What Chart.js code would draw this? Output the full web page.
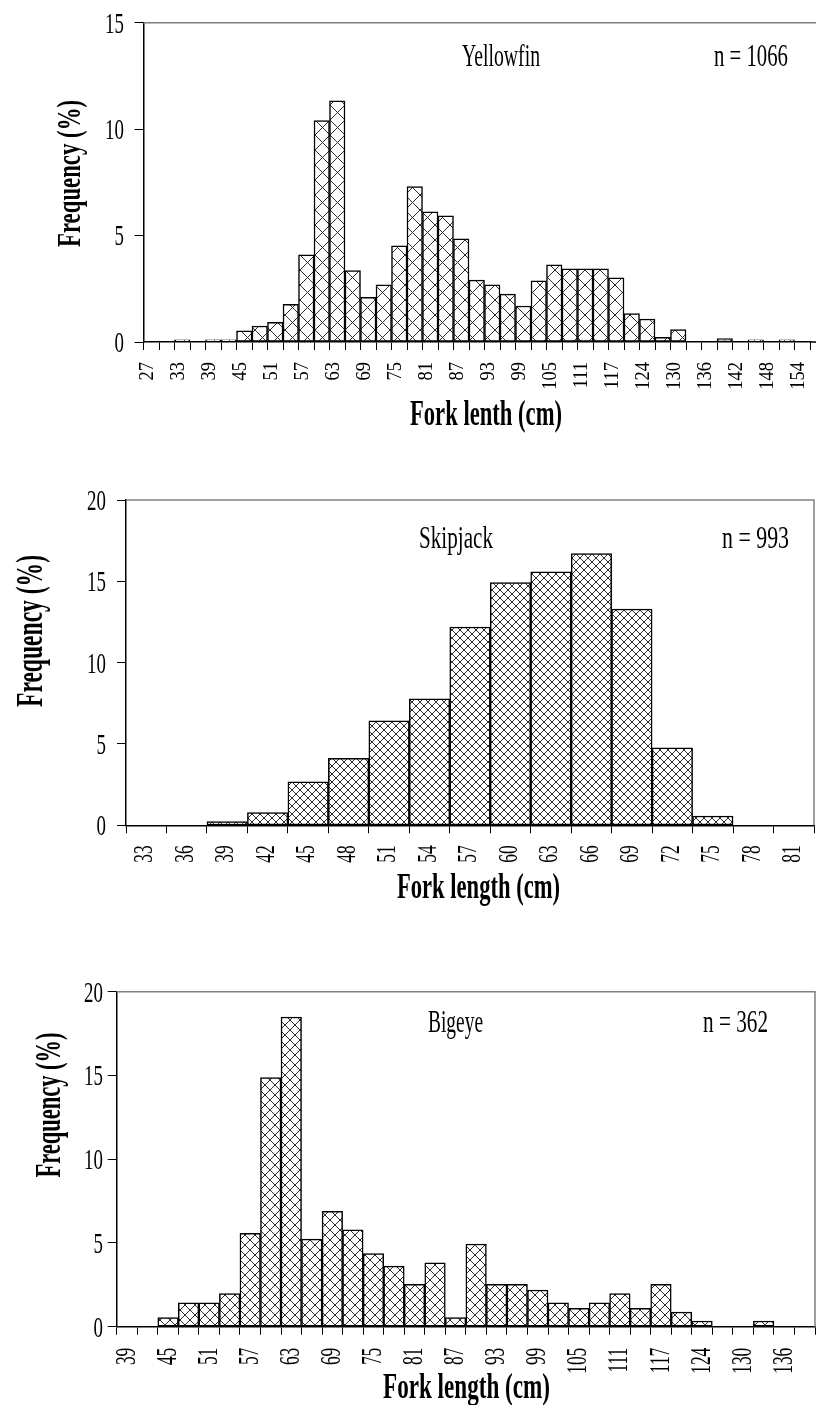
<!DOCTYPE html>
<html>
<head>
<meta charset="utf-8">
<script src="https://cdn.jsdelivr.net/npm/chart.js@4.4.0/dist/chart.umd.min.js"></script>
<style>
  html, body { margin: 0; padding: 0; background: #fff; overflow: hidden; }
  body { width: 816px; height: 1405px; position: relative; }
  canvas { position: absolute; left: 0; }
</style>
</head>
<body>
<canvas id="yellowfin" width="816" height="450" style="top:0px"></canvas>
<canvas id="skipjack" width="816" height="470" style="top:450px"></canvas>
<canvas id="bigeye" width="816" height="485" style="top:920px"></canvas>
<script>
// Yellowfin: 3 cm bins, label on every other bin
const yfLabels = ["27", "", "33", "", "39", "", "45", "", "51", "", "57", "", "63", "", "69", "", "75", "", "81", "", "87", "",
  "93", "", "99", "", "105", "", "111", "", "117", "", "124", "", "130", "", "136", "", "142", "", "148", "", "154"];
const yfFreq = [0, 0, 0.1, 0, 0.1, 0.1, 0.52, 0.75, 0.92, 1.77, 4.1, 10.4, 11.33, 3.35, 2.1, 2.68, 4.52, 7.3, 6.12, 5.93,
  4.85, 2.91, 2.68, 2.25, 1.69, 2.87, 3.62, 3.44, 3.44, 3.44, 3.02, 1.33, 1.08, 0.22, 0.58, 0, 0, 0.16, 0, 0.1, 0, 0.1, 0];

// Skipjack
const skLabels = ["33", "36", "39", "42", "45", "48", "51", "54", "57", "60", "63", "66", "69", "72", "75", "78", "81"];
const skFreq = [0, 0, 0.23, 0.78, 2.68, 4.12, 6.43, 7.77, 12.19, 14.92, 15.59, 16.7, 13.3, 4.77, 0.57, 0, 0];

// Bigeye
const beLabels = ["39", "", "45", "", "51", "", "57", "", "63", "", "69", "", "75", "", "81", "", "87", "",
  "93", "", "99", "", "105", "", "111", "", "117", "", "124", "", "130", "", "136", ""];
const beFreq = [0, 0, 0.54, 1.43, 1.43, 1.97, 5.57, 14.87, 18.49, 5.23, 6.89, 5.79, 4.36, 3.62, 2.53, 3.82, 0.54,
  4.94, 2.53, 2.53, 2.19, 1.43, 1.09, 1.43, 1.97, 1.09, 2.53, 0.88, 0.34, 0, 0, 0.34, 0, 0];

const SERIF = '"Liberation Serif", "Times New Roman", serif';

// draws condensed serif text (the source figure uses a narrow Times)
function squeezeText(ctx, text, x, y, opt) {
  ctx.save();
  ctx.font = (opt.bold ? "bold " : "") + opt.size + "px " + SERIF;
  const natural = ctx.measureText(text).width;
  const sx = opt.width ? opt.width / natural : opt.squeeze || 1;
  ctx.translate(x, y);
  if (opt.rotate) ctx.rotate(-Math.PI / 2);
  ctx.scale(sx, 1);
  ctx.textAlign = opt.align || "left";
  ctx.textBaseline = "alphabetic";
  ctx.fillStyle = "#000";
  ctx.fillText(text, 0, 0);
  ctx.restore();
}

function crossHatch(canvasId, size) {
  const tile = document.createElement("canvas");
  tile.width = size;
  tile.height = size;
  const g = tile.getContext("2d");
  g.fillStyle = "#fff";
  g.fillRect(0, 0, size, size);
  g.strokeStyle = "#2e2e2e";
  g.lineWidth = 1;
  g.beginPath();
  for (const k of [-size, 0, size]) {
    g.moveTo(k, 0);
    g.lineTo(k + size, size);
    g.moveTo(k + size, 0);
    g.lineTo(k, size);
  }
  g.stroke();
  return document.getElementById(canvasId).getContext("2d").createPattern(tile, "repeat");
}

function paperText(spec) {
  return {
    id: "paperText",
    afterDraw(chart) {
      const ctx = chart.ctx;
      const { left, right, top, bottom } = chart.chartArea;
      const xs = chart.scales.x;
      const ys = chart.scales.y;

      // grey plot frame (top / right), black axis run-out on the open side
      ctx.save();
      ctx.strokeStyle = "#808080";
      ctx.lineWidth = 1.5;
      ctx.beginPath();
      ctx.moveTo(left, top);
      if (spec.openRight) {
        ctx.lineTo(chart.width, top);
      } else {
        ctx.lineTo(right, top);
        ctx.lineTo(right, bottom);
      }
      ctx.stroke();
      if (spec.openRight) {
        ctx.strokeStyle = "#000";
        ctx.beginPath();
        ctx.moveTo(right, bottom);
        ctx.lineTo(chart.width, bottom);
        ctx.stroke();
      }
      ctx.restore();

      ys.ticks.forEach((t) => {
        const py = ys.getPixelForValue(t.value);
        squeezeText(ctx, String(t.value), spec.yTickRight, py + 0.33 * 30, {
          size: 30, squeeze: 0.63, align: "right"
        });
      });

      chart.data.labels.forEach((lab, i) => {
        if (!lab) return;
        const px = xs.getPixelForTick(i) + spec.xShift;
        squeezeText(ctx, lab, px + 0.33 * spec.xSize, bottom + spec.xGap, {
          size: spec.xSize, squeeze: spec.xSqueeze, rotate: true, align: "right"
        });
      });

      squeezeText(ctx, spec.name, spec.nameX, spec.nameY, { size: 31, width: spec.nameW });
      squeezeText(ctx, spec.count, spec.countX, spec.nameY, { size: 31, width: spec.countW });
      squeezeText(ctx, spec.xTitle, spec.xTitleX, spec.xTitleY, { size: 36, bold: true, width: spec.xTitleW });
      squeezeText(ctx, "Frequency (%)", spec.yTitleX, spec.yTitleY, {
        size: spec.yTitleSize, bold: true, width: spec.yTitleW, rotate: true, align: "center"
      });
    }
  };
}

function buildChart(id, labels, values, yMax, hatch, pad, spec) {
  return new Chart(document.getElementById(id), {
    type: "bar",
    data: {
      labels: labels,
      datasets: [{
        data: values,
        backgroundColor: crossHatch(id, hatch),
        borderColor: "#000",
        borderWidth: 1.5,
        borderSkipped: false,
        barPercentage: 1,
        categoryPercentage: 1
      }]
    },
    options: {
      responsive: false,
      animation: false,
      layout: { padding: pad },
      plugins: { legend: { display: false }, tooltip: { enabled: false } },
      scales: {
        x: {
          offset: true,
          ticks: { display: false, autoSkip: false },
          grid: { offset: true, drawOnChartArea: false, tickLength: 8, color: "#000", lineWidth: 1 },
          border: { color: "#000", width: 1.5 }
        },
        y: {
          min: 0,
          max: yMax,
          ticks: { display: false, stepSize: 5 },
          grid: { drawOnChartArea: false, tickLength: 9, color: "#000", lineWidth: 1 },
          border: { color: "#000", width: 1.5 }
        }
      }
    },
    plugins: [paperText(spec)]
  });
}

buildChart("yellowfin", yfLabels, yfFreq, 15, 15,
  { left: 134.5, top: 22.7, right: 6, bottom: 100 },
  {
    openRight: true, yTickRight: 124, xShift: -5, xGap: 20, xSize: 21, xSqueeze: 0.88,
    name: "Yellowfin", nameX: 462, nameY: 66, nameW: 78,
    count: "n = 1066", countX: 714, countW: 74,
    xTitle: "Fork lenth (cm)", xTitleX: 410, xTitleY: 425, xTitleW: 152,
    yTitleX: 80, yTitleY: 173.5, yTitleSize: 34, yTitleW: 147
  });

buildChart("skipjack", skLabels, skFreq, 20, 8,
  { left: 117, top: 50, right: 2, bottom: 86.7 },
  {
    openRight: false, yTickRight: 106, xShift: -3, xGap: 20, xSize: 28, xSqueeze: 0.62,
    name: "Skipjack", nameX: 419, nameY: 98, nameW: 74,
    count: "n = 993", countX: 722, countW: 67,
    xTitle: "Fork length (cm)", xTitleX: 397, xTitleY: 448, xTitleW: 163,
    yTitleX: 42, yTitleY: 181, yTitleSize: 38, yTitleW: 152
  });

buildChart("bigeye", beLabels, beFreq, 20, 10,
  { left: 107.7, top: 71.7, right: 1, bottom: 70.3 },
  {
    openRight: false, yTickRight: 103, xShift: -2, xGap: 21, xSize: 29, xSqueeze: 0.6,
    name: "Bigeye", nameX: 428, nameY: 111.7, nameW: 55,
    count: "n = 362", countX: 703, countW: 65,
    xTitle: "Fork length (cm)", xTitleX: 383, xTitleY: 478, xTitleW: 167,
    yTitleX: 60, yTitleY: 185, yTitleSize: 36, yTitleW: 145
  });
</script>
</body>
</html>
